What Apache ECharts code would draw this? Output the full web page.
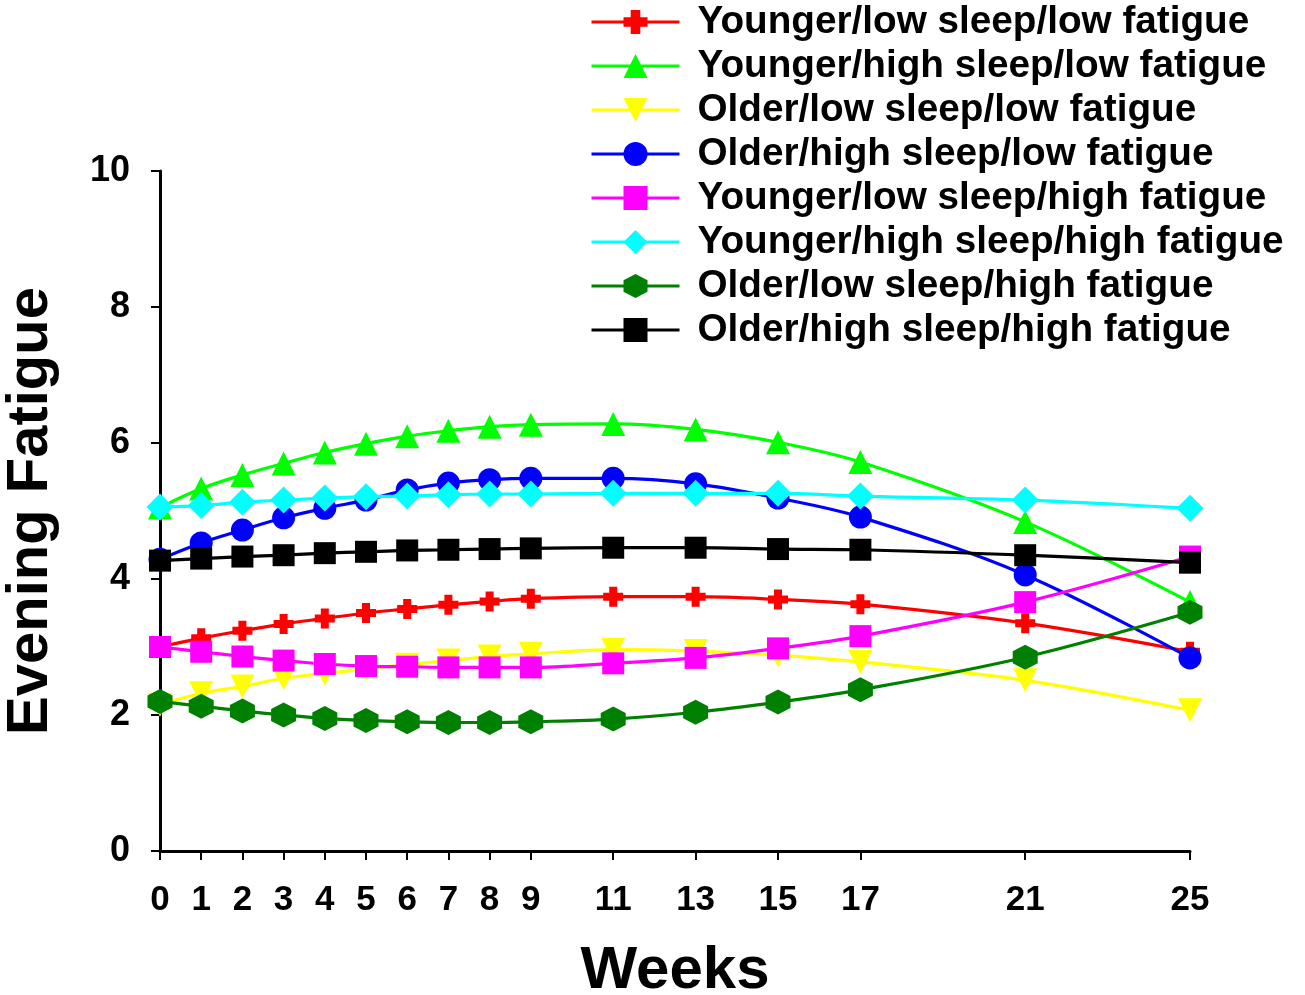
<!DOCTYPE html>
<html>
<head>
<meta charset="utf-8">
<title>Evening Fatigue</title>
<script src="https://cdn.jsdelivr.net/npm/echarts@6/dist/echarts.min.js"></script>
<style>
  html, body { margin: 0; padding: 0; background: #fff; }
  #chart { width: 1305px; height: 995px; }
</style>
</head>
<body>
<div id="chart"></div>
<script>
var weeks = [0, 1, 2, 3, 4, 5, 6, 7, 8, 9, 11, 13, 15, 17, 21, 25];
var yTicks = [0, 2, 4, 6, 8, 10];

var youngerLowSleepLowFatigue = [3.0, 3.13, 3.24, 3.34, 3.42, 3.5, 3.56, 3.62, 3.67, 3.71, 3.74, 3.74, 3.7, 3.63, 3.35, 2.93];
var youngerHighSleepLowFatigue = [5.05, 5.33, 5.53, 5.7, 5.86, 5.99, 6.1, 6.18, 6.24, 6.27, 6.28, 6.2, 6.01, 5.72, 4.84, 3.66];
var olderLowSleepLowFatigue = [2.15, 2.32, 2.42, 2.54, 2.61, 2.68, 2.74, 2.8, 2.86, 2.9, 2.96, 2.94, 2.88, 2.78, 2.51, 2.07];
var olderHighSleepLowFatigue = [4.29, 4.53, 4.72, 4.9, 5.04, 5.16, 5.31, 5.41, 5.46, 5.48, 5.48, 5.4, 5.19, 4.91, 4.06, 2.84];
var youngerLowSleepHighFatigue = [3.0, 2.93, 2.86, 2.8, 2.75, 2.72, 2.71, 2.7, 2.7, 2.7, 2.76, 2.84, 2.98, 3.16, 3.66, 4.33];
var youngerHighSleepHighFatigue = [5.06, 5.08, 5.13, 5.16, 5.19, 5.21, 5.22, 5.24, 5.25, 5.25, 5.26, 5.26, 5.26, 5.22, 5.16, 5.04];
var olderLowSleepHighFatigue = [2.2, 2.13, 2.06, 2.0, 1.95, 1.92, 1.9, 1.89, 1.89, 1.9, 1.94, 2.04, 2.19, 2.37, 2.85, 3.51];
var olderHighSleepHighFatigue = [4.27, 4.3, 4.33, 4.35, 4.38, 4.4, 4.42, 4.43, 4.44, 4.45, 4.46, 4.46, 4.44, 4.43, 4.35, 4.24];

var FONT = '"Liberation Sans", Arial, sans-serif';

// marker shapes
var CROSS = 'path://M3,0 H7 V3 H10 V7 H7 V10 H3 V7 H0 V3 H3 Z';
var DOWN_TRIANGLE = 'path://M0,0 L10,0 L5,10 Z';
var HEXAGON = 'path://M5,0 L9.5,2.6 L9.5,7.4 L5,10 L0.5,7.4 L0.5,2.6 Z';

var groups = [
  { name: 'Younger/low sleep/low fatigue', data: youngerLowSleepLowFatigue, color: '#ff0000', symbol: CROSS, size: 20 },
  { name: 'Younger/high sleep/low fatigue', data: youngerHighSleepLowFatigue, color: '#00ff00', symbol: 'triangle', size: 24 },
  { name: 'Older/low sleep/low fatigue', data: olderLowSleepLowFatigue, color: '#ffff00', symbol: DOWN_TRIANGLE, size: 24 },
  { name: 'Older/high sleep/low fatigue', data: olderHighSleepLowFatigue, color: '#0000ff', symbol: 'circle', size: 23 },
  { name: 'Younger/low sleep/high fatigue', data: youngerLowSleepHighFatigue, color: '#ff00ff', symbol: 'rect', size: 22 },
  { name: 'Younger/high sleep/high fatigue', data: youngerHighSleepHighFatigue, color: '#00ffff', symbol: 'diamond', size: 27 },
  { name: 'Older/low sleep/high fatigue', data: olderLowSleepHighFatigue, color: '#008000', symbol: HEXAGON, size: 25 },
  { name: 'Older/high sleep/high fatigue', data: olderHighSleepHighFatigue, color: '#000000', symbol: 'rect', size: 22 }
];

var series = [];
var $each = function(arr, fn) { for (var i = 0; i < arr.length; i++) fn(arr[i], i); };
$each(groups, function(g) {
  var pts = [];
  $each(weeks, function(w, i) { pts.push([w, g.data[i]]); });
  series.push({
    name: g.name,
    type: 'line',
    data: pts,
    smooth: 0.35,
    symbol: g.symbol,
    symbolSize: g.size,
    itemStyle: { color: g.color, opacity: 1 },
    lineStyle: { color: g.color, width: 3.2 },
    emphasis: { disabled: true },
    animation: false
  });
});

var chart = echarts.init(document.getElementById('chart'));
chart.setOption({
  backgroundColor: '#ffffff',
  animation: false,
  legend: {
    orient: 'vertical',
    left: 590,
    top: 2,
    padding: 0,
    itemWidth: 88,
    itemHeight: 30,
    itemGap: 4,
    lineStyle: { width: 3 },
    textStyle: { fontFamily: FONT, fontWeight: 'bold', fontSize: 38.7, lineHeight: 40, color: '#000', padding: [0, 0, 0, 13] },
    data: groups.map(function(g) { return g.name; })
  },
  grid: { left: 160, right: 115, top: 171, bottom: 144, containLabel: false, outerBoundsMode: 'none' },
  xAxis: {
    type: 'value',
    min: 0,
    max: 25,
    name: 'Weeks',
    nameLocation: 'middle',
    nameGap: 90,
    nameTextStyle: { fontFamily: FONT, fontWeight: 'bold', fontSize: 60, color: '#000' },
    axisLine: { lineStyle: { color: '#000', width: 3 } },
    axisTick: { customValues: weeks, length: 9, lineStyle: { color: '#000', width: 2 } },
    axisLabel: { customValues: weeks, margin: 32, fontFamily: FONT, fontWeight: 'bold', fontSize: 35, color: '#000' },
    splitLine: { show: false }
  },
  yAxis: {
    type: 'value',
    min: 0,
    max: 10,
    interval: 2,
    name: 'Evening Fatigue',
    nameLocation: 'middle',
    nameGap: 100,
    nameTextStyle: { fontFamily: FONT, fontWeight: 'bold', fontSize: 58, color: '#000' },
    axisLine: { show: true, lineStyle: { color: '#000', width: 3 } },
    axisTick: { show: true, length: 9, lineStyle: { color: '#000', width: 2 } },
    axisLabel: { margin: 30, fontFamily: FONT, fontWeight: 'bold', fontSize: 36, color: '#000' },
    splitLine: { show: false }
  },
  series: series
});
</script>
</body>
</html>
